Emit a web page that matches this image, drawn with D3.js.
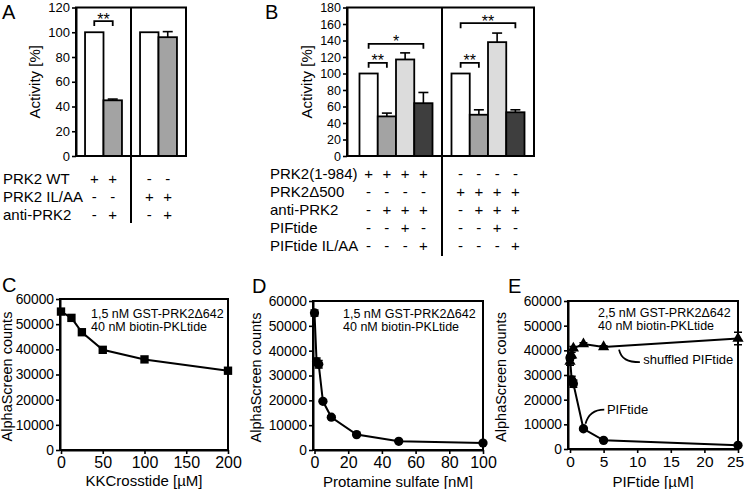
<!DOCTYPE html>
<html><head><meta charset="utf-8">
<script src="https://cdn.jsdelivr.net/npm/d3@7"></script>
<style>body{margin:0;background:#fff} svg{display:block} text{font-family:"Liberation Sans",Arial,sans-serif;fill:#000}</style>
</head><body><svg id="c" width="745" height="489"></svg>
<script>
// ---------------- data ----------------
const aCategories = ["WT", "WT + anti-PRK2", "IL/AA", "IL/AA + anti-PRK2"];
const aGroups = ["PRK2 WT", "PRK2 IL/AA"];
const aValues = [100, 45, 100, 96];
const aErrors = [0, 1, 0, 4.5];
const aTicks = [0, 20, 40, 60, 80, 100, 120];
const aRowLabels = ["PRK2 WT", "PRK2 IL/AA", "anti-PRK2"];
const aRowSigns = [["+","+","-","-"], ["-","-","+","+"], ["-","+","-","+"]];
const aSignif = [[0, 1, 109, "**"]]; // from bar, to bar, level (%), label

const bCategories = ["1-984", "1-984 anti", "1-984 anti PIFtide", "1-984 anti PIFtide IL/AA",
                     "Δ500", "Δ500 anti", "Δ500 anti PIFtide", "Δ500 anti PIFtide IL/AA"];
const bGroups = ["PRK2(1-984)", "PRK2Δ500"];
const bValues = [100, 48, 117, 64, 100, 50, 138, 53];
const bErrors = [0, 4, 8, 13, 0, 6, 11, 3];
const bTicks = [0, 20, 40, 60, 80, 100, 120, 140, 160, 180];
const bRowLabels = ["PRK2(1-984)", "PRK2Δ500", "anti-PRK2", "PIFtide", "PIFtide IL/AA"];
const bRowSigns = [["+","+","+","+","-","-","-","-"],
                   ["-","-","-","-","+","+","+","+"],
                   ["-","+","+","+","-","+","+","+"],
                   ["-","-","+","-","-","-","+","-"],
                   ["-","-","-","+","-","-","-","+"]];
const bSignif = [[0, 1, 113, "**"], [0, 3, 136, "*"], [4, 5, 113, "**"], [4, 7, 161, "**"]];

const countTicks = [0, 10000, 20000, 30000, 40000, 50000, 60000];

const cX = [0, 12.5, 25, 50, 100, 200];
const cY = [55000, 52500, 46800, 39800, 36000, 31500];
const cXTicks = [0, 50, 100, 150, 200];

const dX = [0, 1.25, 2.5, 5, 10, 25, 50, 100];
const dY = [55200, 35500, 34500, 19600, 13200, 6200, 3500, 2800];
const dErr = [1200, 1500, 1500, 500, 500, 400, 300, 300];
const dXTicks = [0, 20, 40, 60, 80, 100];

const eX = [0, 0.25, 0.5, 2, 5, 25];
const ePIFtide = [37000, 28000, 26500, 8200, 3500, 1500];
const ePIFtideErr = [1000, 1500, 1500, 500, 300, 400];
const eShuffled = [35500, 38000, 40800, 42600, 41400, 44800];
const eShuffledErr = [1500, 1200, 800, 500, 500, 2500];
const eXTicks = [0, 5, 10, 15, 20, 25];

// ---------------- drawing ----------------
const svg = d3.select("#c");
const BLACK = "#000";

function panelLetter(txt, x, y) {
  svg.append("text").attr("x", x).attr("y", y).attr("font-size", 20).text(txt);
}

function barPanel(o) {
  const g = svg.append("g");
  const y = d3.scaleLinear().domain([0, o.max]).range([o.bottom, o.top]);
  const nPer = o.values.length / o.groups.length;
  const gx = d3.scaleBand().domain(o.groups).range([o.groupStart, o.right]).paddingInner(0).paddingOuter(0);
  const inner = d3.scaleBand().domain(d3.range(nPer)).range([0, gx.bandwidth()]).paddingInner(0).paddingOuter(o.outerPad);
  const bx = i => gx(o.groups[Math.floor(i / nPer)]) + inner(i % nPer);
  const bw = inner.bandwidth();
  const cx = i => bx(i) + bw / 2;

  g.selectAll("rect.bar").data(o.values).join("rect")
    .attr("x", (d, i) => bx(i)).attr("width", bw)
    .attr("y", d => y(d)).attr("height", d => o.bottom - y(d))
    .attr("fill", (d, i) => o.fills[i]).attr("stroke", BLACK).attr("stroke-width", 1.8);
  o.values.forEach((v, i) => {
    const e = o.errors[i];
    if (!e) return;
    g.append("line").attr("x1", cx(i)).attr("x2", cx(i)).attr("y1", y(v)).attr("y2", y(v + e))
      .attr("stroke", BLACK).attr("stroke-width", 1.6);
    g.append("line").attr("x1", cx(i) - 5).attr("x2", cx(i) + 5).attr("y1", y(v + e)).attr("y2", y(v + e))
      .attr("stroke", BLACK).attr("stroke-width", 1.6);
  });
  g.append("rect").attr("x", o.left).attr("y", o.top).attr("width", o.right - o.left).attr("height", o.bottom - o.top)
    .attr("fill", "none").attr("stroke", BLACK).attr("stroke-width", 2);
  const div = gx(o.groups[1]);
  g.append("line").attr("x1", div).attr("x2", div).attr("y1", o.top).attr("y2", o.dividerBottom)
    .attr("stroke", BLACK).attr("stroke-width", 2);
  const ax = g.append("g").attr("transform", `translate(${o.left},0)`)
    .call(d3.axisLeft(y).tickValues(o.ticks).tickSize(4).tickSizeOuter(0).tickPadding(2));
  ax.select(".domain").attr("stroke-width", 2);
  ax.selectAll(".tick line").attr("stroke-width", 1.6);
  ax.selectAll(".tick text").attr("font-size", o.tickFont).attr("font-family", null);
  g.append("text").attr("transform", `translate(${o.ylabX},${(o.top + o.bottom) / 2}) rotate(-90)`)
    .attr("text-anchor", "middle").attr("font-size", 15).text("Activity [%]");
  o.signif.forEach(([a, b, lvl, lab]) => {
    const yy = y(lvl);
    g.append("path").attr("d", `M${cx(a)},${yy + 5}V${yy}H${cx(b)}V${yy + 5}`)
      .attr("fill", "none").attr("stroke", BLACK).attr("stroke-width", 1.8);
    g.append("text").attr("x", (cx(a) + cx(b)) / 2).attr("y", yy + 3.5).attr("text-anchor", "middle")
      .attr("font-size", 16).text(lab);
  });
  o.rowLabels.forEach((lab, r) => {
    const yy = o.rowY0 + r * o.rowStep;
    g.append("text").attr("x", o.labelX).attr("y", yy).attr("font-size", 15).text(lab);
    o.rowSigns[r].forEach((s, i) => {
      g.append("text").attr("x", cx(i)).attr("y", yy).attr("text-anchor", "middle").attr("font-size", 15).text(s);
    });
  });
}

barPanel({
  values: aValues, errors: aErrors, groups: aGroups, ticks: aTicks, max: 120,
  left: 76, groupStart: 76, right: 186, top: 7.5, bottom: 156, outerPad: 0.49,
  fills: ["#fff", "#a3a3a3", "#fff", "#a3a3a3"], dividerBottom: 223, tickFont: 13, ylabX: 40,
  signif: aSignif, rowLabels: aRowLabels, rowSigns: aRowSigns, rowY0: 183.5, rowStep: 18, labelX: 3
});
barPanel({
  values: bValues, errors: bErrors, groups: bGroups, ticks: bTicks, max: 180,
  left: 347, groupStart: 350, right: 534, top: 7.5, bottom: 156, outerPad: 0.52,
  fills: ["#fff", "#a3a3a3", "#dcdcdc", "#3e3e3e", "#fff", "#a3a3a3", "#dcdcdc", "#3e3e3e"],
  dividerBottom: 256, tickFont: 12.5, ylabX: 312,
  signif: bSignif, rowLabels: bRowLabels, rowSigns: bRowSigns, rowY0: 178.8, rowStep: 18.1, labelX: 270
});
panelLetter("A", 2, 19);
panelLetter("B", 265, 19);

function linePanel(o) {
  const g = svg.append("g");
  const x = d3.scaleLinear().domain([0, o.xmax]).range([o.x0, o.right]);
  const y = d3.scaleLinear().domain([0, 60000]).range([o.bottom, o.top]);
  g.append("rect").attr("x", o.left).attr("y", o.top).attr("width", o.right - o.left).attr("height", o.bottom - o.top)
    .attr("fill", "none").attr("stroke", BLACK).attr("stroke-width", 2);
  const ay = g.append("g").attr("transform", `translate(${o.left},0)`)
    .call(d3.axisLeft(y).tickValues(countTicks).tickFormat(d3.format("d")).tickSize(4).tickSizeOuter(0).tickPadding(2));
  const axx = g.append("g").attr("transform", `translate(0,${o.bottom})`)
    .call(d3.axisBottom(x).tickValues(o.xticks).tickSize(4).tickSizeOuter(0).tickPadding(3));
  [ay, axx].forEach(a => {
    a.select(".domain").attr("stroke-width", 2);
    a.selectAll(".tick line").attr("stroke-width", 1.6);
    a.selectAll(".tick text").attr("font-family", null);
  });
  ay.selectAll(".tick text").attr("font-size", 13.8);
  axx.selectAll(".tick text").attr("font-size", o.xTickFont || 16);
  if (o.lastTickDx) axx.selectAll(".tick text").filter(d => d === o.xmax).attr("dx", o.lastTickDx);
  g.append("text").attr("transform", `translate(${o.ylabX},${(o.top + o.bottom) / 2 + 2}) rotate(-90)`)
    .attr("text-anchor", "middle").attr("font-size", 14.5).text("AlphaScreen counts");
  g.append("text").attr("x", (o.left + o.right) / 2).attr("y", o.xlabY).attr("text-anchor", "middle")
    .attr("font-size", 15).text(o.xlabel);
  o.notes.forEach((t, i) => g.append("text").attr("x", o.noteX).attr("y", o.noteY + i * 13)
    .attr("font-size", 12.5).text(t));
  o.series.forEach(s => {
    g.append("path").datum(s.ys.map((v, i) => [s.xs[i], v]))
      .attr("d", d3.line().x(d => x(d[0])).y(d => y(d[1])))
      .attr("fill", "none").attr("stroke", BLACK).attr("stroke-width", 2);
    if (s.errs) s.errs.forEach((e, i) => {
      const px = x(s.xs[i]);
      g.append("path").attr("d", `M${px},${y(s.ys[i] - e)}V${y(s.ys[i] + e)}M${px - 4},${y(s.ys[i] - e)}H${px + 4}M${px - 4},${y(s.ys[i] + e)}H${px + 4}`)
        .attr("stroke", BLACK).attr("stroke-width", 1.5).attr("fill", "none");
    });
    g.selectAll(null).data(s.ys).join("path")
      .attr("transform", (d, i) => `translate(${x(s.xs[i])},${y(d)})`)
      .attr("d", d3.symbol().type(s.symbol).size(s.size))
      .attr("fill", BLACK);
  });
  return { x, y, g };
}

linePanel({
  left: 60, x0: 61, right: 228, top: 299, bottom: 450, xmax: 200, xticks: cXTicks,
  ylabX: 12, xlabY: 486, xlabel: "KKCrosstide [µM]",
  notes: ["1,5 nM GST-PRK2Δ642", "40 nM biotin-PKLtide"], noteX: 91, noteY: 318,
  series: [{ xs: cX, ys: cY, symbol: d3.symbolSquare, size: 70 }]
});
linePanel({
  left: 313, x0: 314.5, right: 483, top: 301, bottom: 450, xmax: 100, xticks: dXTicks,
  ylabX: 261, xlabY: 487, xlabel: "Protamine sulfate [nM]",
  notes: ["1,5 nM GST-PRK2Δ642", "40 nM biotin-PKLtide"], noteX: 343, noteY: 318,
  series: [{ xs: dX, ys: dY, errs: dErr, symbol: d3.symbolCircle, size: 68 }]
});
const E = linePanel({
  left: 568, x0: 570, right: 738, top: 301, bottom: 449, xmax: 25, xticks: eXTicks,
  xTickFont: 15.5, lastTickDx: -3,
  ylabX: 506, xlabY: 487, xlabel: "PIFtide [µM]",
  notes: ["2,5 nM GST-PRK2Δ642", "40 nM biotin-PKLtide"], noteX: 598, noteY: 317,
  series: [
    { xs: eX, ys: ePIFtide, errs: ePIFtideErr, symbol: d3.symbolCircle, size: 68 },
    { xs: eX, ys: eShuffled, errs: eShuffledErr, symbol: d3.symbolTriangle, size: 55 }
  ]
});
{
  const { x, y, g } = E;
  const p = (a, b) => `${x(a)},${y(b)}`;
  g.append("path").attr("d", `M${p(7.3, 40300)}C${p(7.6, 36500)} ${p(8.6, 35200)} ${p(10.4, 35200)}`)
    .attr("fill", "none").attr("stroke", BLACK).attr("stroke-width", 1.8);
  g.append("text").attr("x", x(10.9)).attr("y", y(34400)).attr("font-size", 13).text("shuffled PIFtide");
  g.append("path").attr("d", `M${p(2.3, 10200)}C${p(2.7, 14300)} ${p(3.6, 16000)} ${p(5.1, 16000)}`)
    .attr("fill", "none").attr("stroke", BLACK).attr("stroke-width", 1.8);
  g.append("text").attr("x", x(5.5)).attr("y", y(14300)).attr("font-size", 13).text("PIFtide");
}
panelLetter("C", 2, 292);
panelLetter("D", 252, 293);
panelLetter("E", 508, 293);
</script></body></html>
